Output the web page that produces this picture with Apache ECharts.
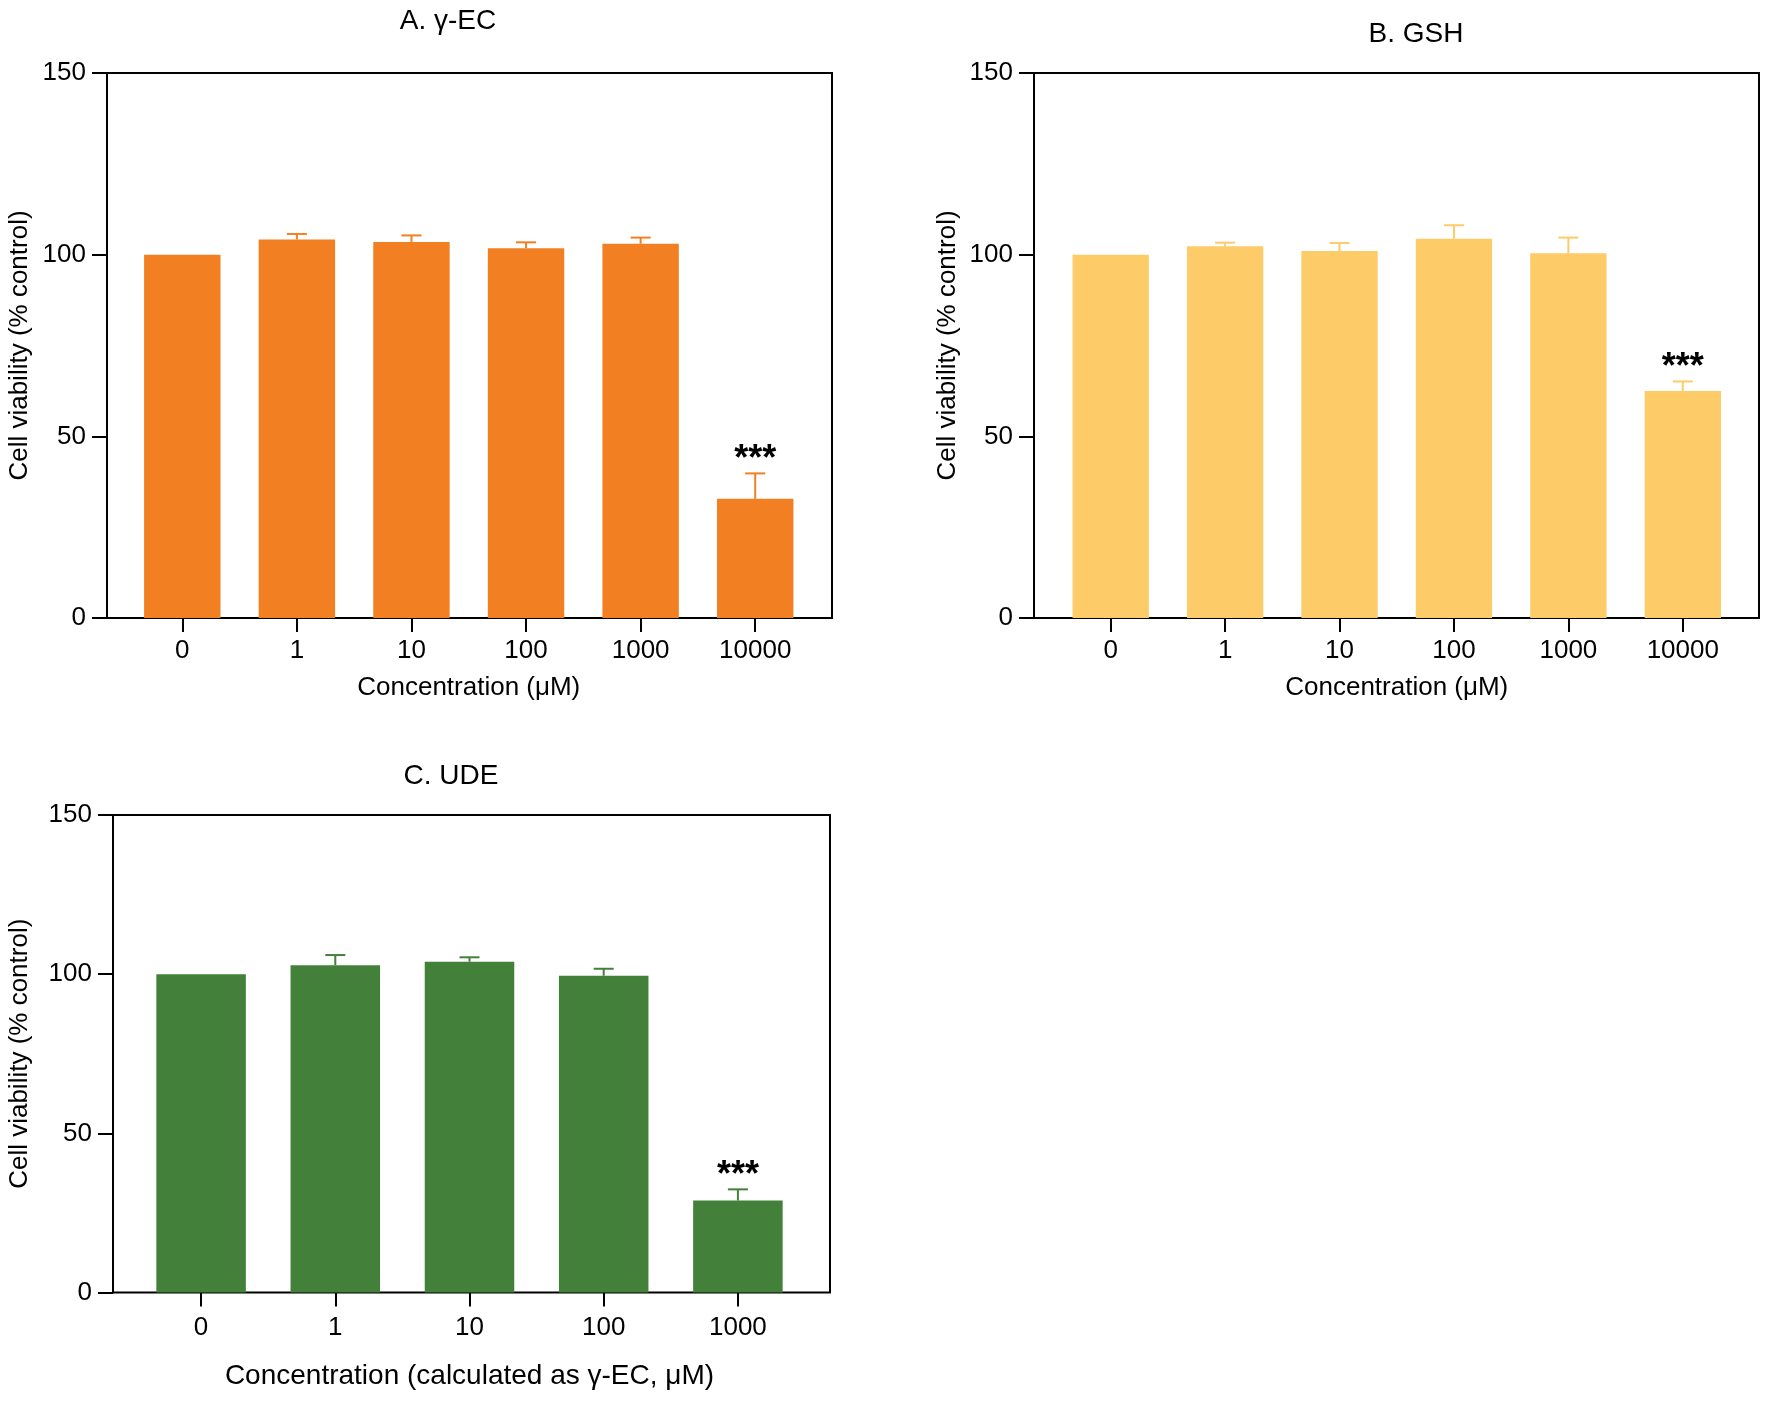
<!DOCTYPE html>
<html><head><meta charset="utf-8">
<script src="https://cdn.jsdelivr.net/npm/echarts@6/dist/echarts.min.js"></script>
<style>html,body{margin:0;padding:0;background:#fff}#c{width:1770px;height:1403px}</style>
</head><body><div id="c"></div>
<script>
// ---- data ----
const catsAB = ['0', '1', '10', '100', '1000', '10000'];
const catsC = ['0', '1', '10', '100', '1000'];
const yTicks = [0, 50, 100, 150];

const meanA = [100, 104.2, 103.5, 101.8, 103.0, 32.8];
const sdA   = [0, 1.5, 1.8, 1.6, 1.7, 7.0];
const sigA  = ['', '', '', '', '', '***'];

const meanB = [100, 102.3, 101.0, 104.4, 100.4, 62.5];
const sdB   = [0, 1.0, 2.2, 3.7, 4.3, 2.6];
const sigB  = ['', '', '', '', '', '***'];

const meanC = [100, 102.8, 103.9, 99.5, 28.9];
const sdC   = [0, 3.2, 1.4, 2.2, 3.5];
const sigC  = ['', '', '', '', '***'];

const titles = ['A. γ-EC', 'B. GSH', 'C. UDE'];
const xNames = ['Concentration (μM)', 'Concentration (μM)', 'Concentration (calculated as γ-EC, μM)'];
const yName = 'Cell viability (% control)';

// ---- layout / style ----
const FONT = 'Liberation Sans, Arial, Helvetica, sans-serif';
const W = 1770, H = 1403;
const panels = [
  { cats: catsAB, mean: meanA, sd: sdA, sig: sigA, color: '#F28023',
    frame: { l: 107, r: 832, t: 73, b: 618 }, inner: { l: 125, r: 812.5 },
    title: { x: 448, y: 7 }, yGap: 74, xGap: 57, xNameSize: 26, labelMargin: 20 },
  { cats: catsAB, mean: meanB, sd: sdB, sig: sigB, color: '#FDCB67',
    frame: { l: 1034, r: 1759, t: 73, b: 618 }, inner: { l: 1053.5, r: 1740 },
    title: { x: 1416, y: 20 }, yGap: 73, xGap: 57, xNameSize: 26, labelMargin: 20 },
  { cats: catsC, mean: meanC, sd: sdC, sig: sigC, color: '#43803A',
    frame: { l: 113, r: 830, t: 815, b: 1292.5 }, inner: { l: 134, r: 805 },
    title: { x: 451, y: 762 }, yGap: 80, xGap: 70, xNameSize: 28, labelMargin: 22 }
];

const grid = [], xAxis = [], yAxis = [], series = [], title = [];
panels.forEach((p, k) => {
  const fi = k * 2, ii = k * 2 + 1;
  grid.push({ left: p.frame.l, width: p.frame.r - p.frame.l, top: p.frame.t, height: p.frame.b - p.frame.t,
    show: true, borderColor: '#000', borderWidth: 2, backgroundColor: 'transparent' });
  grid.push({ left: p.inner.l, width: p.inner.r - p.inner.l, top: p.frame.t, height: p.frame.b - p.frame.t });
  // frame axes
  xAxis.push({ gridIndex: fi, type: 'value', min: 0, max: 1, show: false });
  yAxis.push({ gridIndex: fi, type: 'value', min: yTicks[0], max: yTicks[yTicks.length - 1], interval: yTicks[1] - yTicks[0],
    axisLine: { show: true, lineStyle: { color: '#000', width: 2 } },
    axisTick: { show: true, inside: false, length: 15, lineStyle: { color: '#000', width: 2 } },
    axisLabel: { color: '#000', fontSize: 26, fontFamily: FONT, margin: 21 },
    splitLine: { show: false },
    name: yName, nameLocation: 'middle', nameGap: p.yGap, nameRotate: 90,
    nameTextStyle: { color: '#000', fontSize: 26, fontFamily: FONT } });
  // inner (data) axes
  xAxis.push({ gridIndex: ii, type: 'category', data: p.cats,
    axisLine: { show: false },
    axisTick: { show: true, alignWithLabel: true, length: 14, lineStyle: { color: '#000', width: 2 } },
    axisLabel: { color: '#000', fontSize: 26, fontFamily: FONT, margin: p.labelMargin },
    name: xNames[k], nameLocation: 'middle', nameGap: p.xGap,
    nameTextStyle: { color: '#000', fontSize: p.xNameSize, fontFamily: FONT } });
  yAxis.push({ gridIndex: ii, type: 'value', min: yTicks[0], max: yTicks[yTicks.length - 1], show: false });

  series.push({ type: 'bar', xAxisIndex: ii, yAxisIndex: ii, data: p.mean, barWidth: '66.7%',
    itemStyle: { color: p.color }, silent: true, animation: false });
  const sig = p.sig, color = p.color;
  series.push({ type: 'custom', xAxisIndex: ii, yAxisIndex: ii, animation: false, silent: true, z: 5,
    encode: { x: 0, y: 1 },
    data: p.mean.map((m, i) => [i, m, p.sd[i]]),
    renderItem: function (params, api) {
      const i = api.value(0), v = api.value(1), e = api.value(2);
      const base = api.coord([i, v]);
      const top = api.coord([i, v + e]);
      const children = [];
      if (e > 0) {
        children.push({ type: 'line', shape: { x1: base[0], y1: base[1], x2: top[0], y2: top[1] },
          style: { stroke: color, lineWidth: 2 } });
        children.push({ type: 'line', shape: { x1: top[0] - 10, y1: top[1], x2: top[0] + 10, y2: top[1] },
          style: { stroke: color, lineWidth: 2 } });
      }
      if (sig[i]) {
        children.push({ type: 'text', style: { text: sig[i], x: top[0], y: top[1] - 13,
          align: 'center', verticalAlign: 'middle', fill: '#000',
          font: 'bold 36px ' + FONT } });
      }
      return { type: 'group', children: children };
    } });
  title.push({ text: titles[k], left: p.title.x, top: p.title.y, textAlign: 'center', padding: 0,
    textStyle: { color: '#000', fontSize: 28, fontWeight: 'normal', fontFamily: FONT } });
});

const chart = echarts.init(document.getElementById('c'), null, { renderer: 'canvas', width: W, height: H });
chart.setOption({ backgroundColor: '#fff', animation: false, title, grid, xAxis, yAxis, series });
</script></body></html>
